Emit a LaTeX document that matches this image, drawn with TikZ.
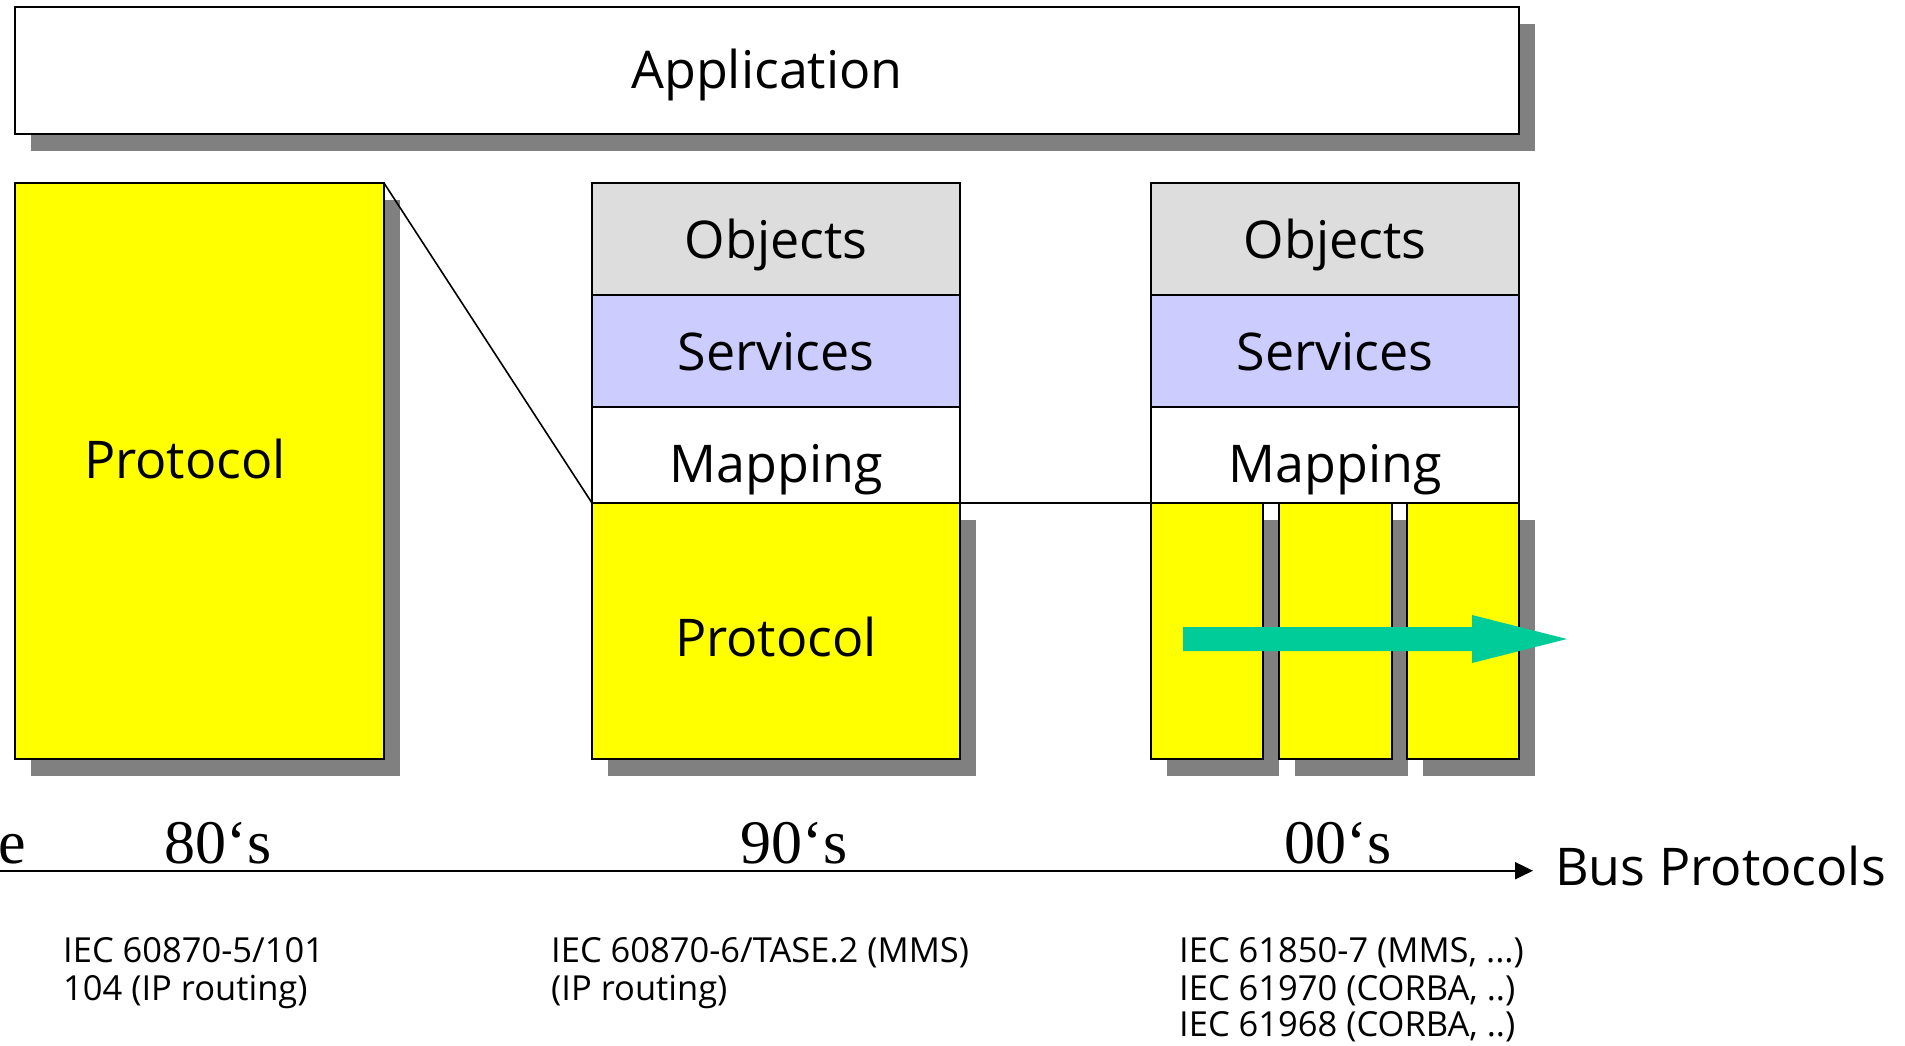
\documentclass[tikz,border=0pt]{standalone}
\usepackage{fontspec}
\setmainfont{Open Sans}
\newfontfamily\yearfont{Liberation Serif}
\usetikzlibrary{arrows.meta,shadows}
\pgfdeclarelayer{bg}
\pgfsetlayers{bg,main}
\definecolor{shadowgray}{HTML}{808080}
\definecolor{objgray}{HTML}{DDDDDD}
\definecolor{svcblue}{HTML}{CCCCFF}
\definecolor{protyellow}{HTML}{FFFF00}
\definecolor{arrowgreen}{HTML}{00CC99}
\begin{document}
\begin{tikzpicture}[x=1pt,y=-1pt,
  box/.style={draw=black, line width=2pt, rectangle, inner sep=0pt, outer sep=0pt,
    font=\fontsize{52}{60}\selectfont, text depth=0pt},
  shadowed/.style={general shadow={fill=shadowgray, shadow xshift=16pt, shadow yshift=-17pt}},
  objbox/.style={box, fill=objgray, minimum width=368pt, minimum height=112pt, text height=38pt},
  svcbox/.style={box, fill=svcblue, minimum width=368pt, minimum height=112pt, text height=39pt},
  mapbox/.style={box, fill=white, minimum width=368pt, minimum height=96pt, text height=54pt},
  protbox/.style={box, fill=protyellow, shadowed, text height=50pt},
  conn/.style={draw=black, line width=2pt},
  thinline/.style={draw=black, line width=1.6pt},
  bigtext/.style={inner sep=0pt, font=\fontsize{52}{60}\selectfont},
  yeartext/.style={inner sep=0pt, font=\yearfont\fontsize{62}{70}\selectfont},
  smalltext/.style={inner sep=0pt, anchor=base west, font=\fontsize{34.5}{40}\selectfont}
]
\useasboundingbox (0,0) rectangle (1905,1045);
\fill[white] (0,0) rectangle (1905,1045);

% Application
\node[box, fill=white, shadowed, minimum width=1504pt, minimum height=127pt, text height=35pt] (app) at (767,70.5) {Application};

% 80's protocol
\node[protbox, minimum width=369pt, minimum height=576pt] (ltp) at (199.5,471) {};
\node[bigtext, anchor=base] (ltptxt) at (185,478) {Protocol};

% 90's stack
\node[objbox] (mobj) at (776,239) {Objects};
\node[svcbox] (msvc) at (776,351) {Services};
\node[mapbox] (mmap) at (776,455) {Mapping};
\node[protbox, minimum width=368pt, minimum height=256pt] (mprot) at (776,631) {Protocol};

% 00's stack
\node[objbox] (robj) at (1335,239) {Objects};
\node[svcbox] (rsvc) at (1335,351) {Services};
\node[mapbox] (rmap) at (1335,455) {Mapping};
\node[protbox, minimum width=112pt, minimum height=256pt] (rc1) at (1207,631) {};
\node[protbox, minimum width=113pt, minimum height=256pt] (rc2) at (1335.5,631) {};
\node[protbox, minimum width=112pt, minimum height=256pt] (rc3) at (1463,631) {};

% connectors from Application
\coordinate (ltop) at (207,183);
\coordinate (mtop) at (768,183);
\coordinate (rtop) at (1343,183);
\begin{pgfonlayer}{bg}
\draw[conn] (app.south -| ltop) -- (ltop);
\draw[conn] (app.south -| mtop) -- (mtop);
\draw[conn] (app.south -| rtop) -- (rtop);
\end{pgfonlayer}

% zoom lines
\draw[thinline] (ltp.north east) -- (mprot.north west);
\draw[thinline] (mprot.north east) -- (rmap.south west);

% green arrow
\fill[arrowgreen] (1183,627) -- (1472,627) -- (1472,615) -- (1567,639) -- (1472,663) -- (1472,651) -- (1183,651) -- cycle;

% time axis
\coordinate (axs) at (0,870.7);
\coordinate (axe) at (1533,870.7);
\draw[line width=2pt, -{Triangle[length=18pt,width=17pt]}] (axs) -- (axe);
\node[yeartext, anchor=base east] (ecut) at (26,863) {e};
\node[yeartext, anchor=base] (y80) at (218,863) {80‘s};
\node[yeartext, anchor=base] (y90) at (794,863) {90‘s};
\node[yeartext, anchor=base] (y00) at (1338,863) {00‘s};
\node[bigtext, anchor=base west] (bus) at (1555,885) {Bus Protocols};

% standards
\node[smalltext] (l1) at (63,962) {IEC 60870-5/101};
\node[smalltext] (l2) at (63,1000) {104 (IP routing)};
\node[smalltext] (m1) at (551,962) {IEC 60870-6/TASE.2 (MMS)};
\node[smalltext] (m2) at (551,1000) {(IP routing)};
\node[smalltext] (r1) at (1179,962) {IEC 61850-7 (MMS, ...)};
\node[smalltext] (r2) at (1179,1000) {IEC 61970 (CORBA, ..)};
\node[smalltext] (r3) at (1179,1036) {IEC 61968 (CORBA, ..)};
\end{tikzpicture}
\end{document}
